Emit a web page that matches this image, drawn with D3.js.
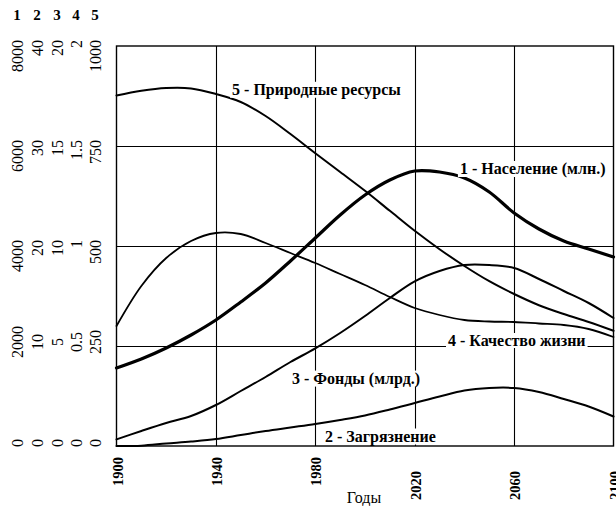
<!DOCTYPE html>
<html>
<head>
<meta charset="utf-8">
<script src="https://cdn.jsdelivr.net/npm/d3@7"></script>
<style>
  html, body { margin: 0; padding: 0; background: #fff; }
  svg { display: block; }
</style>
</head>
<body>
<svg id="chart" width="616" height="506"></svg>
<script>
// World model run, 1900–2100: five series, each on its own vertical scale.
const years = [1900, 1910, 1920, 1930, 1940, 1950, 1960, 1970, 1980, 1990, 2000,
               2010, 2020, 2030, 2040, 2050, 2060, 2070, 2080, 2090, 2100];

// 1 - population, millions
const population = [1560, 1740, 1960, 2220, 2520, 2880, 3260, 3700, 4160, 4620, 5020,
                    5320, 5500, 5480, 5360, 5080, 4660, 4340, 4100, 3940, 3780];
// 2 - pollution
const pollution = [0, 0.03, 0.25, 0.45, 0.7, 1.1, 1.5, 1.85, 2.2, 2.6, 3.05,
                   3.65, 4.3, 4.95, 5.55, 5.8, 5.8, 5.4, 4.7, 3.95, 2.95];
// 3 - capital funds, billions
const funds = [0.33, 0.75, 1.15, 1.5, 2.05, 2.75, 3.45, 4.2, 4.88, 5.65, 6.5,
               7.4, 8.23, 8.75, 9.05, 9.05, 8.9, 8.35, 7.75, 7.15, 6.4];
// 4 - quality of life
const quality = [0.60, 0.80, 0.94, 1.025, 1.065, 1.06, 1.015, 0.965, 0.915, 0.86, 0.805,
                 0.745, 0.69, 0.655, 0.63, 0.6225, 0.62, 0.6125, 0.605, 0.585, 0.545];
// 5 - natural resources
const resources = [876, 888, 895, 894, 880, 860, 825, 780, 732, 685, 638,
                   588, 538, 492, 450, 412, 380, 352, 330, 310, 288];

const axisNumbers = ["1", "2", "3", "4", "5"];
const populationTicks = [0, 2000, 4000, 6000, 8000];
const pollutionTicks = [0, 10, 20, 30, 40];
const fundsTicks = [0, 5, 10, 15, 20];
const qualityTicks = [0, 0.5, 1, 1.5, 2];
const resourcesTicks = [0, 250, 500, 750, 1000];
const yearTicks = [1900, 1940, 1980, 2020, 2060, 2100];

const seriesLabels = [
  "1 - Население (млн.)",
  "2 - Загрязнение",
  "3 - Фонды (млрд.)",
  "4 - Качество жизни",
  "5 - Природные ресурсы"
];
const xTitle = "Годы";

// ---- layout ----
const FONT = "Liberation Serif";
const svg = d3.select("#chart").attr("font-family", FONT);
const plot = { left: 116.5, right: 613.5, top: 46, bottom: 446 };
const axisColumns = [17, 37, 57, 76, 95];

const x = d3.scaleLinear().domain([1900, 2100]).range([plot.left, plot.right]);
const seriesDefs = [
  { values: population, ticks: populationTicks, width: 3.2 },
  { values: pollution, ticks: pollutionTicks, width: 2 },
  { values: funds, ticks: fundsTicks, width: 2 },
  { values: quality, ticks: qualityTicks, width: 1.8 },
  { values: resources, ticks: resourcesTicks, width: 2 }
];
seriesDefs.forEach(s => {
  s.y = d3.scaleLinear()
    .domain([s.ticks[0], s.ticks[s.ticks.length - 1]])
    .range([plot.bottom, plot.top]);
});
const fmt = v => String(v);

// ---- grid ----
const grid = svg.append("g").attr("stroke", "#000").attr("stroke-width", 1.1);
grid.selectAll("line.v").data(yearTicks.slice(1, -1)).join("line")
  .attr("x1", d => Math.round(x(d)) + 0.5).attr("x2", d => Math.round(x(d)) + 0.5)
  .attr("y1", plot.top).attr("y2", plot.bottom);
const refY = seriesDefs[0].y;
grid.selectAll("line.h").data(populationTicks.slice(1, -1)).join("line")
  .attr("x1", plot.left).attr("x2", plot.right)
  .attr("y1", d => Math.round(refY(d)) + 0.5).attr("y2", d => Math.round(refY(d)) + 0.5);

// ---- curves ----
const curves = svg.append("g").attr("fill", "none").attr("stroke", "#000")
  .attr("stroke-linejoin", "round").attr("stroke-linecap", "round");
seriesDefs.forEach(s => {
  const line = d3.line()
    .x((d, i) => x(years[i]))
    .y(d => s.y(d))
    .curve(d3.curveCatmullRom.alpha(0.5));
  curves.append("path").attr("d", line(s.values)).attr("stroke-width", s.width);
});

// ---- frame ----
svg.append("rect")
  .attr("x", plot.left).attr("y", plot.top)
  .attr("width", plot.right - plot.left).attr("height", plot.bottom - plot.top)
  .attr("fill", "none").attr("stroke", "#000").attr("stroke-width", 1.4);

// ---- series labels on white boxes ----
const labelPlacement = [
  { i: 0, year: 2038.2, value: 5440 },   // population
  { i: 1, year: 1983.9, value: 0.45 },   // pollution
  { i: 2, year: 1970.6, value: 3.12 },   // funds
  { i: 3, year: 2033.4, value: 0.50 },   // quality of life
  { i: 4, year: 1946.5, value: 878 }     // natural resources
];
const labelG = svg.append("g");
labelPlacement.forEach(p => {
  const s = seriesDefs[p.i];
  const g = labelG.append("g");
  const t = g.append("text")
    .attr("x", x(p.year)).attr("y", s.y(p.value))
    .attr("font-family", FONT)
    .attr("font-size", 16).attr("font-weight", "bold")
    .text(seriesLabels[p.i]);
  const bb = t.node().getBBox();
  g.insert("rect", "text")
    .attr("x", bb.x - 2).attr("y", bb.y + 1)
    .attr("width", bb.width + 4).attr("height", bb.height - 2)
    .attr("fill", "#fff");
});

// ---- vertical axes: five columns of rotated tick labels ----
seriesDefs.forEach((s, i) => {
  const cx = axisColumns[i];
  svg.append("text")
    .attr("x", cx).attr("y", 20)
    .attr("text-anchor", "middle")
    .attr("font-family", FONT)
    .attr("font-size", 15).attr("font-weight", "bold")
    .text(axisNumbers[i]);
  s.ticks.forEach((v, j) => {
    const yy = s.y(v);
    const upper = j >= 2;
    svg.append("text")
      .attr("transform", `translate(${cx},${upper ? yy - 6 : yy - (j === 0 ? 3 : 4)}) rotate(-90)`)
      .attr("text-anchor", upper ? "end" : "middle")
      .attr("dy", "0.35em")
      .attr("font-family", FONT)
      .attr("font-size", 16)
      .text(fmt(v));
  });
});

// ---- year axis ----
yearTicks.forEach(yr => {
  const early = yr < 2000;
  svg.append("text")
    .attr("transform", `translate(${x(yr) + 1},${early ? 457 : 471}) rotate(-90)`)
    .attr("text-anchor", "end")
    .attr("dy", "0.35em")
    .attr("font-family", FONT)
    .attr("font-size", 14.5).attr("font-weight", "bold")
    .text(yr);
});
svg.append("text")
  .attr("x", 364).attr("y", 503)
  .attr("text-anchor", "middle")
  .attr("font-family", FONT)
  .attr("font-size", 16)
  .text(xTitle);
</script>
</body>
</html>
